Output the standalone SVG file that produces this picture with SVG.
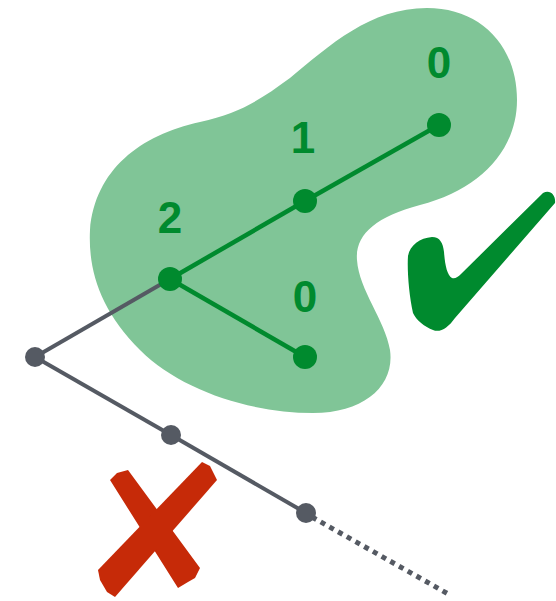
<svg xmlns="http://www.w3.org/2000/svg" width="556" height="601" viewBox="0 0 556 601">
<style>
.g{stroke:#008a2e;stroke-width:4.5;fill:none}
.k{stroke:#555a63;stroke-width:4;fill:none}
.gn{fill:#008a2e}
.kn{fill:#555a63}
.lbl{font-family:"Liberation Sans",Arial,sans-serif;font-weight:bold;font-size:44px;fill:#008a2e;text-anchor:middle}
</style>
<rect width="556" height="601" fill="#ffffff"/>
<g id="blob">
<path d="M 427,8 C 480,8 517,45 517,100 C 517,150 480,190 420,205 C 375,217 355,235 357,260 C 359,290 385,320 390,350 C 395,385 365,413 313,413 C 250,413 180,390 140,350 C 100,310 88,270 90,230 C 95,170 140,135 200,122 C 240,113 260,100 290,78 C 330,45 370,8 427,8 Z" fill="#80c597"/>
</g>
<g id="connectors">
<line class="g" x1="170" y1="279" x2="305" y2="201"/>
<line class="g" x1="305" y1="201" x2="439" y2="125"/>
<line class="g" x1="170" y1="279" x2="305" y2="357"/>
<line class="k" x1="35" y1="357" x2="170" y2="279"/>
<line class="k" x1="35" y1="357" x2="171" y2="435"/>
<line class="k" x1="171" y1="435" x2="306" y2="513"/>
<line x1="312" y1="517" x2="450" y2="595" stroke="#555a63" stroke-width="5" stroke-dasharray="5 5"/>
</g>
<g id="n-root"><circle class="gn" cx="170" cy="279" r="12"/><text class="lbl" x="170" y="233">2</text></g>
<g id="n-mid"><circle class="gn" cx="305" cy="201" r="12"/><text class="lbl" x="303" y="153">1</text></g>
<g id="n-top"><circle class="gn" cx="439" cy="125" r="12"/><text class="lbl" x="439" y="78">0</text></g>
<g id="n-low"><circle class="gn" cx="305" cy="357" r="12"/><text class="lbl" x="305" y="312">0</text></g>
<g id="g-left"><circle class="kn" cx="35" cy="357" r="10"/></g>
<g id="g-mid"><circle class="kn" cx="171" cy="435" r="10"/></g>
<g id="g-end"><circle class="kn" cx="306" cy="513" r="10"/></g>
<g id="check">
<path d="M 543,193 C 550,189 556,195 555,203 L 455,318 C 448,328 440,333 433,330 C 425,327 416,320 413,313 C 409,295 407,270 408,256 C 410,245 420,238 432,237 C 440,237 443,243 444,252 C 445,265 447,275 452,278 C 455,279 458,277 461,274 Z" fill="#008a2e"/>
</g>
<g id="cross" fill="#c62a08">
<polygon points="110,480 117,473 128,470 200,568 195,578 188,582 178,588"/>
<polygon points="202,462 210,466 217,480 115,597 107,592 100,580 98,570"/>
</g>
</svg>
